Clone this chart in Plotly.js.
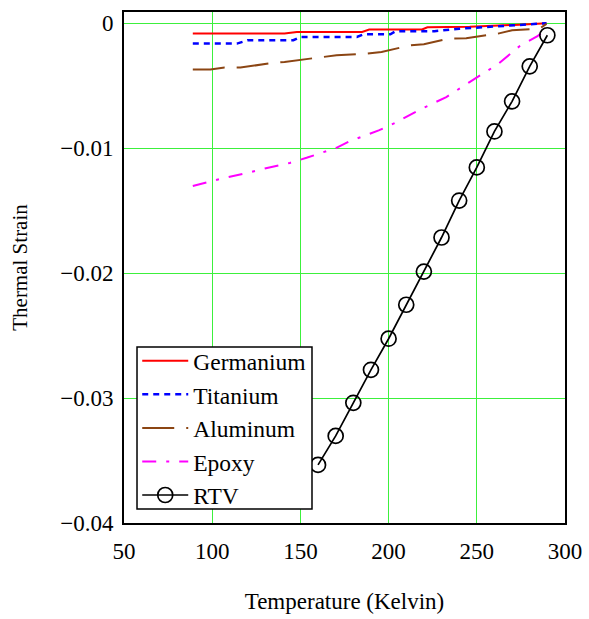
<!DOCTYPE html>
<html>
<head>
<meta charset="utf-8">
<script src="https://cdn.plot.ly/plotly-3.0.1.min.js"></script>
<style>
  html, body { margin: 0; padding: 0; background: #ffffff; }
  #chart { width: 589px; height: 619px; }
</style>
</head>
<body>
<div id="chart"></div>
<script>
// Thermal strain of several materials versus temperature (Kelvin)

const germaniumT = [89, 141, 148, 185, 189, 219, 222, 246, 274, 289.5];
const germaniumStrain = [-0.00083, -0.00083, -0.0007, -0.0007, -0.0005, -0.0005, -0.00032, -0.00028, -0.00012, 0];

const titaniumT = [89, 114, 120, 146, 150, 182, 186, 201, 204, 226, 240, 262, 275, 289.5];
const titaniumStrain = [-0.00163, -0.00163, -0.00136, -0.00136, -0.0011, -0.0011, -0.00088, -0.00088,
                        -0.00064, -0.00064, -0.00044, -0.00024, -0.00016, 0];

const aluminumT = [89, 99, 107, 116, 134, 141, 160, 170.5, 188, 196, 212.6, 220, 234, 244, 262, 270, 285.6, 289.5];
const aluminumStrain = [-0.00371, -0.00371, -0.00355, -0.00355, -0.00318, -0.0031, -0.00275, -0.00257,
                        -0.00243, -0.0023, -0.00176, -0.00168, -0.00123, -0.0012, -0.00083, -0.00056,
                        -0.00043, -0.00005];

const epoxyT = [89, 97.6, 105.5, 118.5, 129.8, 144, 153.5, 170.4, 178, 194.4, 203.5, 217.6, 232.7,
                245.9, 261.8, 274.2, 284.4, 289.5];
const epoxyStrain = [-0.01303, -0.01272, -0.01243, -0.01203, -0.01162, -0.01118, -0.01077, -0.00997,
                     -0.00944, -0.00858, -0.00799, -0.00692, -0.00591, -0.00471, -0.00329, -0.00184,
                     -0.00104, -0.0004];

const rtvT = [160, 170, 180, 190, 200, 210, 220, 230, 240, 250, 260, 270, 280, 290];
const rtvStrain = [-0.03535, -0.03303, -0.03038, -0.02774, -0.02525, -0.02253, -0.01988, -0.01715,
                   -0.01419, -0.01154, -0.00866, -0.00625, -0.00345, -0.00096];

const serif = 'Liberation Serif';
const gridGreen = '#3cf03c';

const traces = [
  { name: 'Germanium', x: germaniumT, y: germaniumStrain, mode: 'lines',
    line: { color: '#ff0000', width: 2 } },
  { name: 'Titanium', x: titaniumT, y: titaniumStrain, mode: 'lines',
    line: { color: '#0000ff', width: 2.5, dash: '6px,5px' } },
  { name: 'Aluminum', x: aluminumT, y: aluminumStrain, mode: 'lines',
    line: { color: '#8b4513', width: 2, dash: '32px,12px' } },
  { name: 'Epoxy', x: epoxyT, y: epoxyStrain, mode: 'lines',
    line: { color: '#ff00ff', width: 2, dash: '14px,10px,3px,10px' } },
  { name: 'RTV', x: rtvT, y: rtvStrain, mode: 'lines+markers',
    line: { color: '#000000', width: 1.7 },
    marker: { symbol: 'circle-open', size: 15, color: '#000000', line: { width: 1.7, color: '#000000' } } }
];

const layout = {
  width: 589,
  height: 619,
  margin: { l: 124, r: 24, t: 12, b: 96 },
  paper_bgcolor: '#ffffff',
  plot_bgcolor: '#ffffff',
  font: { family: serif, size: 23, color: '#000000' },
  showlegend: true,
  legend: {
    x: 0.03, y: 0.36, xanchor: 'left', yanchor: 'top',
    bgcolor: 'rgba(0,0,0,0)', borderwidth: 0,
    font: { family: serif, size: 23.5, color: '#000000' },
    itemwidth: 46,
    tracegroupgap: 0
  },
  // framed white panel behind the legend entries
  shapes: [{
    type: 'rect', xref: 'paper', yref: 'paper', layer: 'above',
    x0: 0.0295, x1: 0.4263, y0: 0.0274, y1: 0.3444,
    fillcolor: '#ffffff', line: { color: '#000000', width: 1.5 }
  }],
  xaxis: {
    range: [50, 300],
    dtick: 50,
    tick0: 50,
    showgrid: true,
    gridcolor: gridGreen,
    gridwidth: 1,
    zeroline: false,
    showline: true,
    linecolor: '#000000',
    linewidth: 2,
    mirror: true,
    ticks: '',
    ticklabelstandoff: 6,
    tickfont: { family: serif, size: 23 },
    title: { text: 'Temperature (Kelvin)', font: { family: serif, size: 23 }, standoff: 30 }
  },
  yaxis: {
    range: [-0.04, 0.0009],
    dtick: 0.01,
    tick0: 0,
    showgrid: true,
    gridcolor: gridGreen,
    gridwidth: 1,
    zeroline: false,
    showline: true,
    linecolor: '#000000',
    linewidth: 2,
    mirror: true,
    ticks: '',
    ticklabelstandoff: 4,
    tickfont: { family: serif, size: 23 },
    title: { text: 'Thermal Strain', font: { family: serif, size: 21 }, standoff: 27 }
  }
};

Plotly.newPlot('chart', traces, layout, { displayModeBar: false, staticPlot: true });
</script>
</body>
</html>
